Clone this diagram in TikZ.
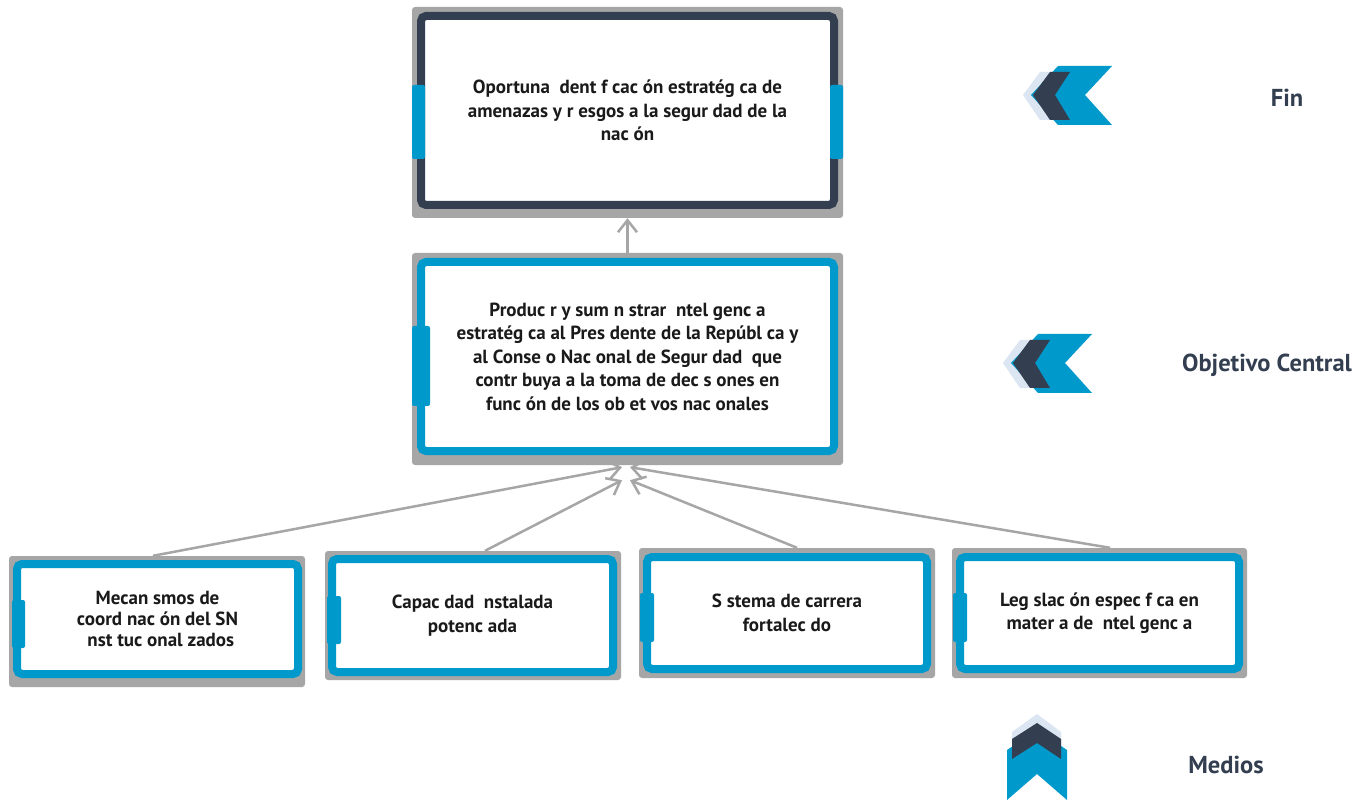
\documentclass[tikz,border=0pt]{standalone}
\usepackage{fontspec}
\setmainfont{PT Sans}
\usetikzlibrary{arrows.meta}
\definecolor{cblue}{HTML}{0099CC}
\definecolor{cdark}{HTML}{333F50}
\definecolor{clight}{HTML}{DCE6F2}
\definecolor{cgray}{HTML}{A6A6A6}
\definecolor{ctext}{HTML}{1A1A1A}
\begin{document}
\begin{tikzpicture}[x=1pt,y=-1pt,
 shadowbox/.style={rectangle, fill=cgray, rounded corners=3pt, inner sep=0pt, draw=none},
 framebox/.style={rectangle, draw=cblue, line width=8pt, rounded corners=5pt, fill=white, align=center, text=ctext, font=\fontsize{19}{23.5}\selectfont\bfseries, inner sep=0pt},
 darkframe/.style={framebox, draw=cdark},
 tabbox/.style={fill=cblue, rounded corners=2pt},
 arr/.style={draw=cgray, line width=2.5pt, -{Straight Barb[length=12pt,width=19pt]}},
 sidelabel/.style={text=cdark, font=\fontsize{24.5}{28}\selectfont\bfseries, anchor=center}]
\useasboundingbox (0,0) rectangle (1369,802);
\fill[white] (0,0) rectangle (1369,802);
% gray backing
\node[shadowbox, minimum width=431pt, minimum height=211pt] (tg) at (627.5,112.5) {};
\node[shadowbox, minimum width=431pt, minimum height=212pt] (mg) at (627.5,359) {};
\node[shadowbox, minimum width=296pt, minimum height=131pt] (g1) at (157,621.5) {};
\node[shadowbox, minimum width=296pt, minimum height=129pt] (g2) at (473,615.5) {};
\node[shadowbox, minimum width=296pt, minimum height=130pt] (g3) at (787,613) {};
\node[shadowbox, minimum width=295pt, minimum height=130pt] (g4) at (1099.5,613) {};
% frames
\node[darkframe, minimum width=413pt, minimum height=189pt] (top) at (627.5,110.5)
 {Oportuna\ \ dent f cac ón estratég ca de\\amenazas y r esgos a la segur dad de la\\nac ón};
\node[framebox, minimum width=413pt, minimum height=189pt] (mid) at (627.5,356.5)
 {Produc r y sum n strar\ \ ntel genc a\\estratég ca al Pres dente de la Repúbl ca y\\al Conse o Nac onal de Segur dad\ \ que\\contr buya a la toma de dec s ones en\\func ón de los ob et vos nac onales};
\node[framebox, minimum width=281pt, minimum height=110pt, font=\fontsize{19}{21}\selectfont\bfseries] (b1) at (157.5,619)
 {Mecan smos de\\coord nac ón del SN\\\hspace*{0.35em}nst tuc onal zados};
\node[framebox, minimum width=281pt, minimum height=113pt] (b2) at (472.5,615.5)
 {Capac dad\ \ nstalada\\potenc ada};
\node[framebox, minimum width=280pt, minimum height=112pt] (b3) at (787,613)
 {S stema de carrera\\fortalec do};
\node[framebox, minimum width=279pt, minimum height=112pt] (b4) at (1099.5,613)
 {Leg slac ón espec f ca en\\mater a de\ \ ntel genc a};
% tabs
\fill[tabbox] (412,85) rectangle (425,159);
\fill[tabbox] (830,85) rectangle (843,159);
\fill[tabbox] (412,326) rectangle (430,406);
\fill[tabbox] (12,600) rectangle (25,648);
\fill[tabbox] (327,596) rectangle (341,644);
\fill[tabbox] (640,593) rectangle (654,642);
\fill[tabbox] (953,593) rectangle (967,642);
% arrows
\draw[arr] (mg.north) -- (tg.south);
\draw[arr] ([xshift=-4pt]g1.north) -- ([xshift=-5.5pt,yshift=-2pt]mg.south);
\draw[arr] ([xshift=12pt]g2.north) -- ([xshift=-5.5pt,yshift=-15pt]mg.south);
\draw[arr] ([xshift=10pt]g3.north) -- ([xshift=2.5pt,yshift=-15pt]mg.south);
\draw[arr] ([xshift=10.5pt]g4.north) -- ([xshift=2.5pt,yshift=-2pt]mg.south);
% icons
\foreach \dx/\dy in {0/0, -20/268} {
 \begin{scope}[shift={(\dx,\dy)}]
  \fill[clight] (1040,72) -- (1060,72) -- (1045,95) -- (1060,120) -- (1040,120) -- (1023,95) -- cycle;
  \fill[cblue] (1058,66) -- (1112,66) -- (1085,95) -- (1112,125) -- (1058,125) -- (1031,95) -- cycle;
  \fill[cdark] (1050,72) -- (1070,72) -- (1055,95) -- (1070,120) -- (1050,120) -- (1033,95) -- cycle;
 \end{scope}
}
\fill[clight] (1012,732) -- (1037,714) -- (1061,732) -- (1061,752) -- (1037,734) -- (1012,752) -- cycle;
\fill[cblue] (1007,750) -- (1037,730) -- (1067,750) -- (1067,800) -- (1037,774) -- (1007,800) -- cycle;
\fill[cdark] (1012,739) -- (1037,723) -- (1061,739) -- (1061,759) -- (1037,743) -- (1012,759) -- cycle;
% labels
\node[sidelabel] (fin) at (1287,98) {Fin};
\node[sidelabel] (oc) at (1267,365) {Objetivo Central};
\node[sidelabel] (med) at (1226,765) {Medios};
\end{tikzpicture}
\end{document}
